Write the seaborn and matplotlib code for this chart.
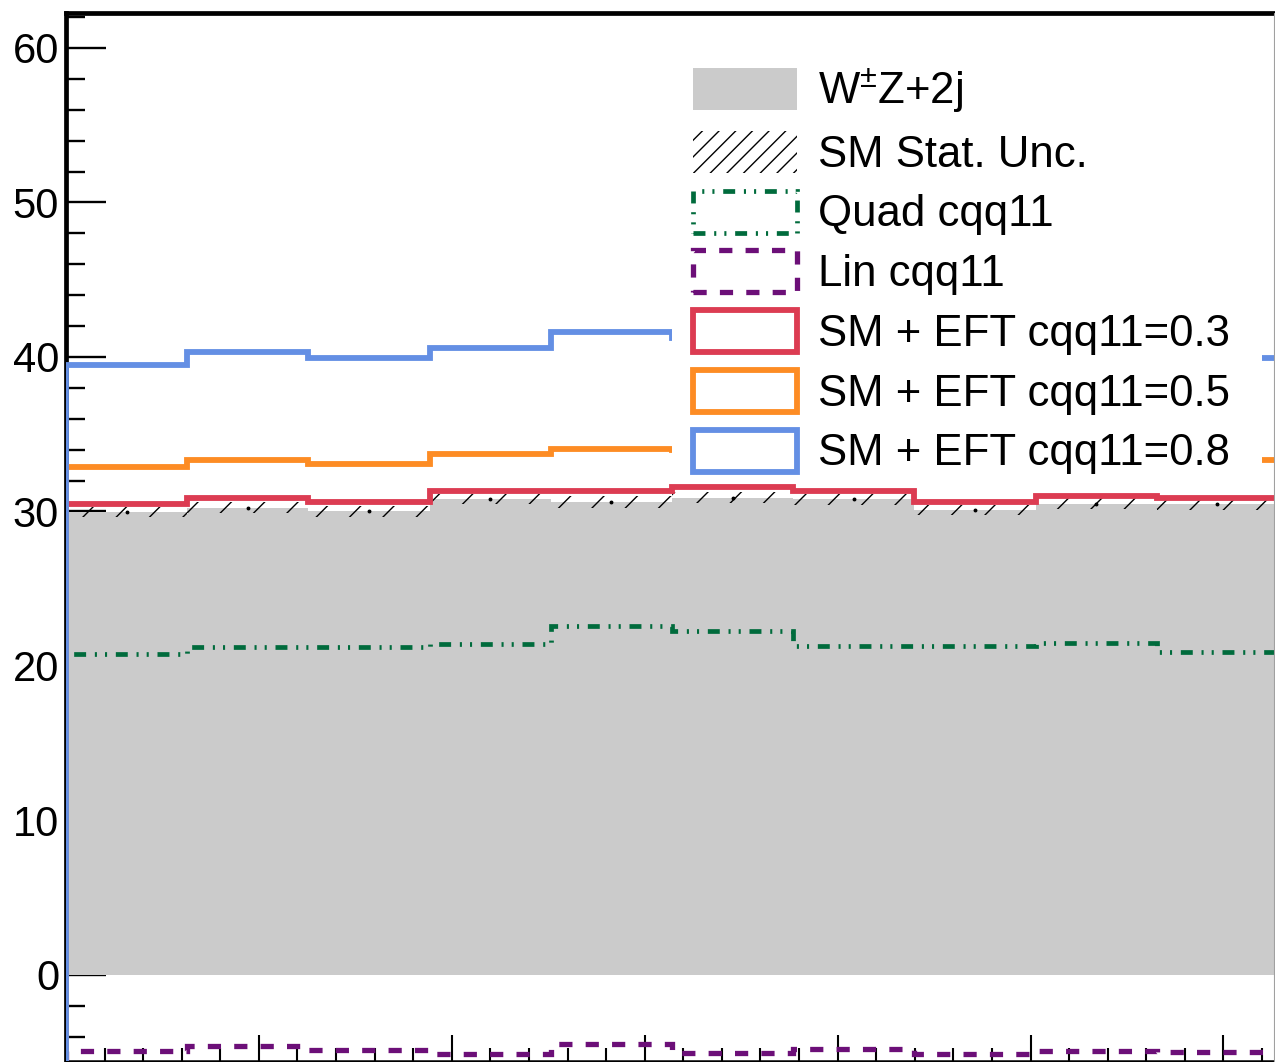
import numpy as np
import pandas as pd
import matplotlib
matplotlib.use("Agg")
import matplotlib.pyplot as plt
import seaborn as sns
from matplotlib.patches import Patch, Rectangle
from matplotlib.lines import Line2D
from matplotlib.ticker import MultipleLocator

# ---------------- data ----------------
bin_edges = [0.0, 0.628, 1.257, 1.885, 2.513, 3.142, 3.770, 4.398, 5.027, 5.655, 6.283]
sm_wz2j = [29.95, 30.25, 30.0, 30.8, 30.6, 30.9, 30.8, 30.1, 30.5, 30.45]
sm_stat_err = [0.33, 0.34, 0.33, 0.35, 0.40, 0.38, 0.36, 0.34, 0.35, 0.34]
quad_cqq11 = [20.8, 21.25, 21.25, 21.4, 22.6, 22.27, 21.3, 21.3, 21.47, 20.89]
lin_cqq11 = [-4.9, -4.62, -4.85, -5.1, -4.47, -5.07, -4.79, -5.11, -4.94, -5.0]
eft_03 = [30.5, 30.9, 30.6, 31.3, 31.35, 31.55, 31.35, 30.6, 31.0, 30.9]
eft_05 = [32.9, 33.35, 33.1, 33.7, 34.05, 33.95, 33.7, 32.9, 33.4, 33.3]
eft_08 = [39.5, 40.3, 39.9, 40.55, 41.6, 41.2, 40.6, 39.6, 40.3, 39.9]

labels = ["W$^{\\pm}$Z+2j", "SM Stat. Unc.", "Quad cqq11", "Lin cqq11",
          "SM + EFT cqq11=0.3", "SM + EFT cqq11=0.5", "SM + EFT cqq11=0.8"]
y_ticks = [0, 10, 20, 30, 40, 50, 60]

# ---------------- style ----------------
sns.set_theme(style="ticks")
plt.rcParams["font.family"] = ["Liberation Sans", "DejaVu Sans"]
plt.rcParams["text.color"] = "black"
plt.rcParams["mathtext.fontset"] = "custom"
plt.rcParams["mathtext.rm"] = "Liberation Sans"
plt.rcParams["mathtext.it"] = "Liberation Sans:italic"
plt.rcParams["lines.scale_dashes"] = False
plt.rcParams["hatch.linewidth"] = 1.0
plt.rcParams["hatch.color"] = "black"

c_gray = "#cbcbcb"
c_green = "#006b3c"
c_purple = "#6c0f78"
c_red = "#dc3c52"
c_orange = "#fd8c24"
c_blue = "#648fe4"
ls_green = (0, (8.6, 6.3, 1.5, 5.8, 1.5, 6.3))
ls_purple = (0, (9.5, 9.5))
lw = 4.2

edges = np.array(bin_edges)
centers = 0.5 * (edges[:-1] + edges[1:])
sm = np.array(sm_wz2j)
err = np.array(sm_stat_err)
df = pd.DataFrame({"x": centers, "w": sm})

W, H = 1275, 1062
fig = plt.figure(figsize=(W / 100, H / 100), dpi=100)
ax = fig.add_axes([66 / W, 1 / H, (1278 - 66) / W, (1061 - 13) / H])

# SM histogram (filled)
sns.histplot(data=df, x="x", weights="w", bins=list(bin_edges), element="step",
             fill=True, color=c_gray, alpha=1.0, linewidth=0, ax=ax, zorder=1)

# stat uncertainty band (hatched)
ax.stairs(sm + err, edges, baseline=sm - err, fill=True, facecolor="none",
          edgecolor="black", hatch="/", linewidth=0, zorder=2)
ax.plot(centers, sm, "o", ms=1.8, color="black", zorder=2.5)

base = -20
ax.stairs(quad_cqq11, edges, baseline=base, color=c_green, linewidth=3.4,
          linestyle=ls_green, zorder=3)
ax.stairs(lin_cqq11, edges, baseline=base, color=c_purple, linewidth=3.8,
          linestyle=ls_purple, zorder=3)
ax.stairs(eft_03, edges, baseline=base, color=c_red, linewidth=lw, zorder=4)
ax.stairs(eft_05, edges, baseline=base, color=c_orange, linewidth=lw, zorder=5)
ax.stairs(eft_08, edges, baseline=base, color=c_blue, linewidth=lw, zorder=6)

ax.set_xlim(edges[0], edges[-1])
ax.set_ylim(-5.57, 62.26)
ax.set_xlabel("")
ax.set_ylabel("")

ax.set_yticks(y_ticks)
ax.yaxis.set_minor_locator(MultipleLocator(2))
ax.xaxis.set_major_locator(MultipleLocator(1))
ax.xaxis.set_minor_locator(MultipleLocator(0.2))
ax.tick_params(axis="y", which="major", direction="in", length=28.8, width=1.7,
               labelsize=30, pad=5, color="black", labelcolor="black")
ax.tick_params(axis="y", which="minor", direction="in", length=14, width=1.7,
               color="black")
ax.tick_params(axis="x", which="major", direction="in", length=19, width=1.5,
               labelbottom=False, color="black")
ax.tick_params(axis="x", which="minor", direction="in", length=9.5, width=1.5,
               color="black")

for s in ["top", "left"]:
    ax.spines[s].set_linewidth(3.4)
    ax.spines[s].set_color("black")
ax.spines["bottom"].set_linewidth(1.8)
ax.spines["bottom"].set_color("black")
ax.spines["right"].set_visible(False)
ax.set_facecolor("white")
fig.patch.set_facecolor("white")

# thin right frame edge
fig.add_artist(Line2D([1273.5 / W, 1273.5 / W], [0, (H - 13) / H],
                      transform=fig.transFigure, color="#a0a0a0", linewidth=0.8,
                      zorder=20))

# white legend background box (ROOT TLegend style)
bg = Rectangle((672 / W, (H - 479) / H), (1262 - 672) / W, (479 - 46) / H,
               transform=fig.transFigure, facecolor="white", edgecolor="none",
               zorder=9, clip_on=False)
ax.add_patch(bg)

handles = [
    Patch(facecolor=c_gray, edgecolor="none", linewidth=0),
    Patch(facecolor="none", edgecolor="black", hatch="//", linewidth=0),
    Patch(facecolor="white", edgecolor=c_green, linewidth=3.4, linestyle=ls_green),
    Patch(facecolor="white", edgecolor=c_purple, linewidth=3.8, linestyle=ls_purple),
    Patch(facecolor="white", edgecolor=c_red, linewidth=lw),
    Patch(facecolor="white", edgecolor=c_orange, linewidth=lw),
    Patch(facecolor="white", edgecolor=c_blue, linewidth=lw),
]
leg = ax.legend(handles, labels, loc="upper left",
                bbox_to_anchor=(689 / W, (H - 62) / H), bbox_transform=fig.transFigure,
                fontsize=31.5, frameon=False, borderpad=0.1,
                handlelength=2.36, handleheight=1.1, handletextpad=0.48,
                labelspacing=0.34, borderaxespad=0)
leg.set_zorder(10)

fig.savefig("out.png", dpi=100, facecolor="white")
